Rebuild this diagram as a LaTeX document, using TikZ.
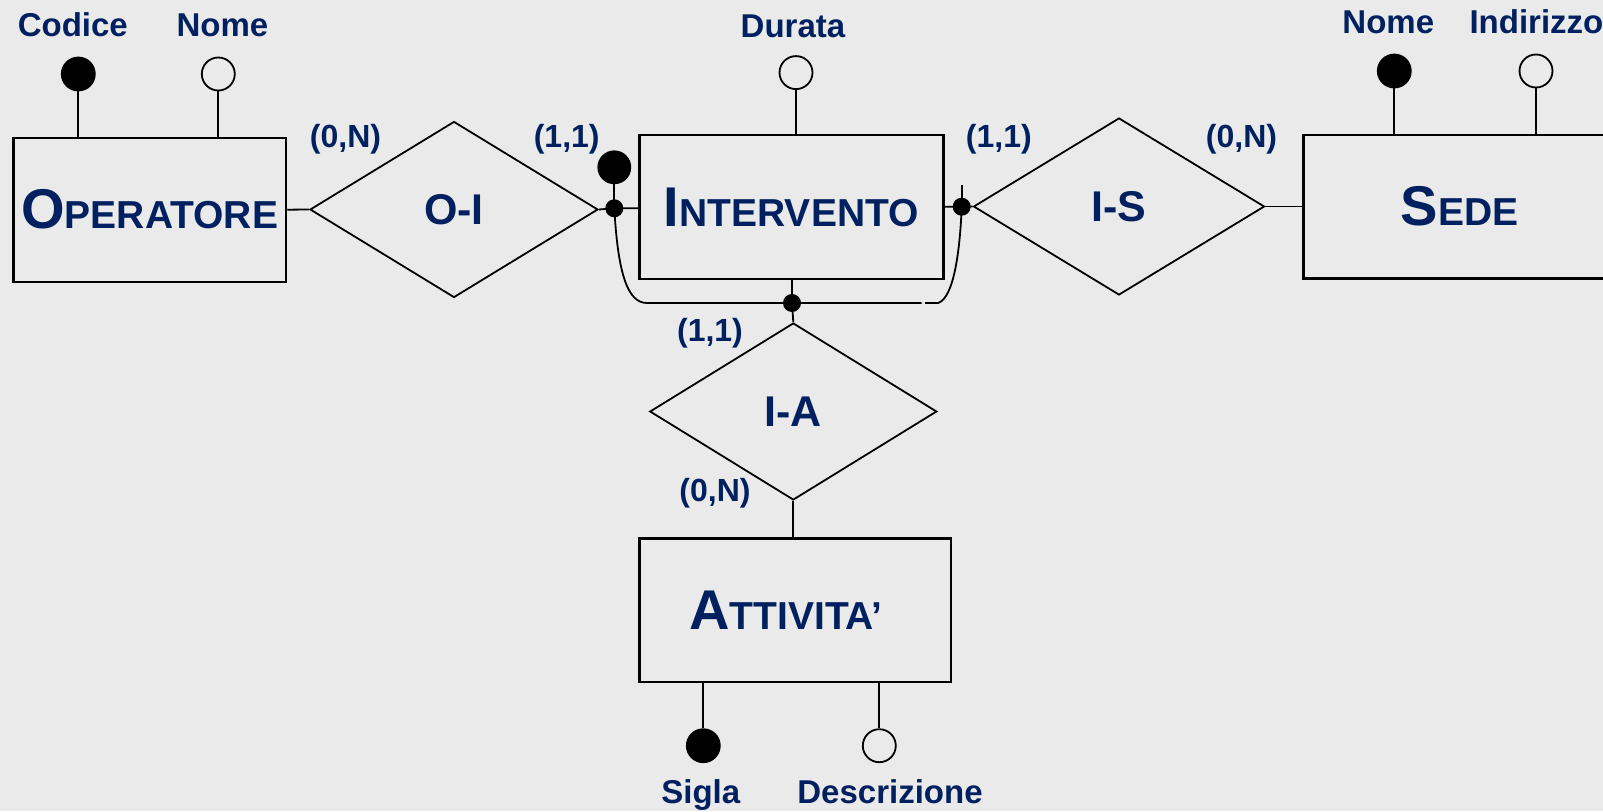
\documentclass[tikz,border=0pt]{standalone}
\usepackage{fontspec}
\setmainfont{Liberation Sans}
\usetikzlibrary{shapes.geometric}
\definecolor{navy}{RGB}{0,32,96}
\definecolor{bg}{RGB}{234,234,234}
\newcommand{\entname}[2]{\raisebox{-3pt}{\fontsize{56}{60}\selectfont #1\fontsize{39}{44}\selectfont #2}}
\begin{document}
\begin{tikzpicture}[x=1pt,y=-1pt,
  entity/.style={draw, line width=2.4pt, rectangle, inner sep=0pt, text=navy, font=\bfseries},
  rel/.style={draw, diamond, line width=1.8pt, inner sep=0pt, text=navy, font=\bfseries\fontsize{43}{48}\selectfont},
  conn/.style={line width=1.8pt},
  keyattr/.style={circle, draw, fill=black, line width=1.8pt, minimum size=33pt, inner sep=0pt},
  attr/.style={circle, draw, fill=bg, line width=1.8pt, minimum size=33pt, inner sep=0pt},
  lbl/.style={text=navy, font=\bfseries\fontsize{33}{38}\selectfont, inner sep=0pt, anchor=base},
  card/.style={text=navy, font=\bfseries\fontsize{32}{36}\selectfont, inner sep=0pt, anchor=base},
  smalldot/.style={circle, fill=black, minimum size=18pt, inner sep=0pt},
]
\fill[bg] (0,0) rectangle (1603,811);
\clip (0,0) rectangle (1603,811);

% entities
\node[entity, minimum width=272.7pt, minimum height=144pt] (ope) at (149.7,209.7) {\entname{O}{PERATORE}};
\node[entity, minimum width=304pt, minimum height=144pt] (int) at (791.3,207) {\entname{I}{NTERVENTO}};
\node[entity, minimum width=312.4pt, minimum height=143.3pt] (sede) at (1459.5,206.7) {\entname{S}{EDE}};
\node[entity, minimum width=311.4pt, minimum height=143.4pt] (att) at (795,610) {\entname{A}{TTIVITA’}\hspace*{18pt}};

% relationships
\node[rel, minimum width=288pt, minimum height=176pt] (oi) at (454,209.5) {O-I};
\node[rel, minimum width=291pt, minimum height=177pt] (is) at (1119,206.5) {I-S};
\node[rel, minimum width=287pt, minimum height=177pt] (ia) at (793.3,411.5) {I-A};

% attributes
\node[keyattr] (codice) at (78.3,74) {};
\node[attr] (nomeo) at (218.3,74) {};
\node[attr] (durata) at (796,72.6) {};
\node[keyattr] (nomes) at (1394.3,71) {};
\node[attr] (indir) at (1536,71) {};
\node[keyattr] (sigla) at (703.3,745.7) {};
\node[attr] (descr) at (879.3,745.7) {};

\node[lbl] (lcodice) at (72.8,36.7) {Codice};
\node[lbl] (lnomeo) at (222.5,36.7) {Nome};
\node[lbl] (ldurata) at (793,37) {Durata};
\node[lbl] (lnomes) at (1388.3,33.3) {Nome};
\node[lbl, anchor=base west] (lindir) at (1469.3,33.3) {Indirizzo};
\node[lbl] (lsigla) at (700.8,803.3) {Sigla};
\node[lbl] (ldescr) at (890,803.3) {Descrizione};

% attribute lines
\draw[conn] (codice) -- (codice |- ope.north);
\draw[conn] (nomeo) -- (nomeo |- ope.north);
\draw[conn] (durata) -- (durata |- int.north);
\draw[conn] (nomes) -- (nomes |- sede.north);
\draw[conn] (indir) -- (indir |- sede.north);
\draw[conn] (sigla) -- (sigla |- att.south);
\draw[conn] (descr) -- (descr |- att.south);

% identifier dots
\node[keyattr, minimum size=32pt] (bigdot) at (614.3,167.3) {};
\node[smalldot] (ldot) at (614.3,208.3) {};
\node[smalldot] (rdot) at (961.7,206.7) {};
\node[smalldot] (bdot) at (792,303) {};
\coordinate (rtick) at (961.7,185);
\coordinate (lc) at (647,303);
\coordinate (gapL) at (921.5,303);
\coordinate (gapR) at (925,303);
\coordinate (rc) at (938,303);

% connectors
\draw[conn] (ope.east) -- (oi.west);
\draw[conn] (oi.east) -- (ldot.center) -- (int.west |- ldot);
\draw[conn] (ldot.center) -- (bigdot);
\draw[conn] (int.east |- rdot) -- (rdot.center) -- (is.west);
\draw[conn] (rdot.center) -- (rtick);
\draw[conn] (is.east) -- (sede.west |- is.east);
\draw[conn] (int.south -| bdot) -- (bdot.center) -- (ia.north);
\draw[conn] (ia.south) -- (att.north -| ia.south);
\draw[conn] (ldot.center) .. controls (618,275) and (628,303) .. (lc) -- (gapL);
\draw[conn] (gapR) -- (rc) .. controls (954,298) and (960,250) .. (rdot.center);

% cardinalities
\node[card] (c1) at (345.5,147) {(0,N)};
\node[card] (c2) at (566.7,147) {(1,1)};
\node[card] (c3) at (998.8,147) {(1,1)};
\node[card] (c4) at (1241.5,147) {(0,N)};
\node[card] (c5) at (710,341) {(1,1)};
\node[card] (c6) at (715,501) {(0,N)};
\end{tikzpicture}
\end{document}
